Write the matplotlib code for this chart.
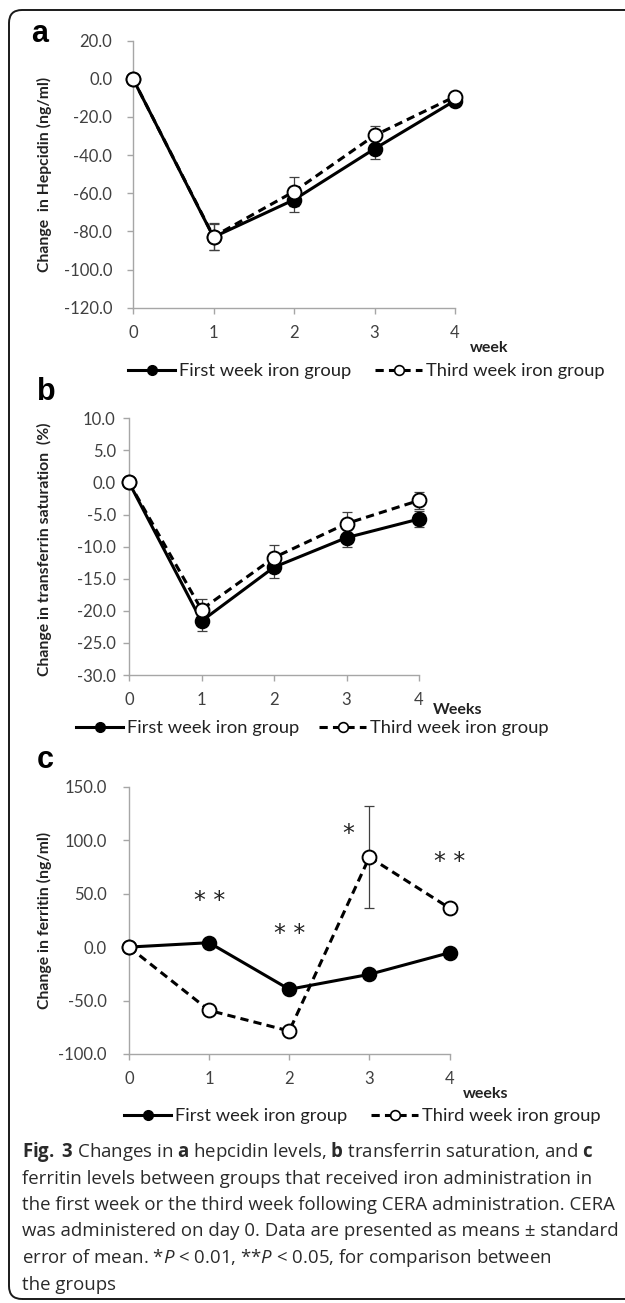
import matplotlib
matplotlib.use("Agg")
import matplotlib.pyplot as plt
from matplotlib.lines import Line2D
from matplotlib.patches import FancyBboxPatch
import numpy as np

# ---------------- data ----------------
weeks = [0, 1, 2, 3, 4]

hep_first = [0.0, -83.0, -63.4, -36.7, -11.4]
hep_first_err = [0.0, 6.7, 6.3, 5.4, 2.0]
hep_third = [0.0, -82.7, -59.1, -29.7, -9.3]
hep_third_err = [0.0, 7.3, 7.7, 5.1, 2.0]

tsat_first = [0.0, -21.6, -13.2, -8.6, -5.7]
tsat_first_err = [0.0, 1.6, 1.7, 1.5, 1.3]
tsat_third = [0.0, -19.8, -11.7, -6.4, -2.8]
tsat_third_err = [0.0, 1.7, 1.9, 1.8, 1.3]

fer_first = [0.0, 4.1, -39.5, -25.5, -5.3]
fer_first_err = [0.0, 0.0, 0.0, 0.0, 0.0]
fer_third = [0.0, -59.2, -78.5, 84.1, 36.5]
fer_third_err = [0.0, 0.0, 0.0, 47.5, 0.0]

# significance marks (panel c): label, x, y
sig_labels = ["* *", "* *", "*", "* *"]
sig_x = [1.0, 2.0, 2.73, 4.0]
sig_y = [43.0, 12.0, 106.0, 80.0]

series_names = ["First week iron group", "Third week iron group"]
ylabels = ["Change  in Hepcidin (ng/ml)", "Change in transferrin saturation  (%)",
           "Change in ferritin (ng/ml)"]
xlabels = ["week", "Weeks", "weeks"]

# ---------------- style ----------------
W, H = 625, 1303
FONT = "Lato"
plt.rcParams["font.family"] = [FONT, "DejaVu Sans"]
plt.rcParams["mathtext.fontset"] = "custom"
plt.rcParams["mathtext.rm"] = "Open Sans"
plt.rcParams["mathtext.bf"] = "Open Sans:bold"
plt.rcParams["mathtext.it"] = "Open Sans:italic"

fig = plt.figure(figsize=(W / 100, H / 100), dpi=100)


def fx(px):
    return px / W


def fy(py):
    return 1 - py / H


SPINE = "#a6a6a6"
TICKC = "#404040"
LW = 2.2
MS = 10
DASH = (0, (2.7, 1.7))


def make_panel(rect, first, first_err, third, third_err, ylim, ystep, ypad):
    ax = fig.add_axes(rect)
    ax.errorbar(weeks, first, yerr=first_err, fmt="none", ecolor="#404040",
                elinewidth=0.9, capsize=3.5, capthick=0.9, zorder=2, clip_on=False)
    ax.errorbar(weeks, third, yerr=third_err, fmt="none", ecolor="#404040",
                elinewidth=0.9, capsize=3.5, capthick=0.9, zorder=2, clip_on=False)
    ax.plot(weeks, first, color="black", lw=LW, marker="o", ms=MS,
            mfc="black", mec="black", mew=1.2, zorder=3, clip_on=False)
    ax.plot(weeks, third, color="black", lw=LW, ls=DASH, marker="o", ms=MS,
            mfc="white", mec="black", mew=1.4, zorder=4, clip_on=False)
    ax.set_xlim(0, 4)
    ax.set_ylim(*ylim)
    ax.set_xticks(weeks)
    ax.set_yticks(np.arange(ylim[0], ylim[1] + ystep / 2, ystep))
    ax.yaxis.set_major_formatter(matplotlib.ticker.FormatStrFormatter("%.1f"))
    for s in ["top", "right"]:
        ax.spines[s].set_visible(False)
    for s in ["left", "bottom"]:
        ax.spines[s].set_color(SPINE)
        ax.spines[s].set_linewidth(1.0)
    ax.tick_params(axis="both", colors=SPINE, labelcolor=TICKC, length=4.5,
                   width=1.0, labelsize=12)
    ax.tick_params(axis="y", pad=ypad)
    ax.tick_params(axis="x", pad=8)
    ax.patch.set_alpha(0)
    return ax


ax_a = make_panel([133 / W, fy(307.7), 322 / W, 267 / H], hep_first, hep_first_err,
                  hep_third, hep_third_err, (-120, 20), 20, 10.5)
ax_b = make_panel([129 / W, fy(675), 290 / W, 256.7 / H], tsat_first, tsat_first_err,
                  tsat_third, tsat_third_err, (-30, 10), 5, 5)
ax_c = make_panel([129 / W, fy(1054), 320.5 / W, 267.3 / H], fer_first, fer_first_err,
                  fer_third, fer_third_err, (-100, 150), 50, 11.5)

for lab, x, y in zip(sig_labels, sig_x, sig_y):
    ax_c.text(x, y, lab, ha="center", va="center", fontsize=17,
              family="DejaVu Sans", color="#222222", clip_on=False)

# y labels
for lab, ycen in zip(ylabels, [174, 549, 920]):
    fig.text(fx(44), fy(ycen), lab, rotation=90, ha="center", va="center",
             fontsize=11.3, fontweight="bold", color="#222222")

# x labels
for lab, (x, y) in zip(xlabels, [(489, 348), (458, 710), (486, 1094)]):
    fig.text(fx(x), fy(y), lab, ha="center", va="center", fontsize=11.5,
             fontweight="bold", color="#222222")

# panel letters
for lab, (x, y) in zip(["a", "b", "c"], [(31, 42), (37, 400), (37, 768)]):
    fig.text(fx(x), fy(y), lab, ha="left", va="baseline", fontsize=22,
             fontweight="bold", family="Liberation Sans", color="black")

# legends
h_first = Line2D([], [], color="black", lw=LW, marker="o", ms=7, mfc="black", mec="black")
h_third = Line2D([], [], color="black", lw=LW, ls=DASH, marker="o", ms=7,
                 mfc="white", mec="black", mew=1.2)
LEG_FS = 13.2
hl = 47 / (LEG_FS * 100 / 72)
for (x1, x2, y) in [(128, 375, 371), (76, 319, 728), (124, 371, 1116)]:
    for h, name, x in [(h_first, series_names[0], x1), (h_third, series_names[1], x2)]:
        fig.legend([h], [name], loc="center left", bbox_to_anchor=(fx(x), fy(y)),
                   frameon=False, fontsize=LEG_FS, handlelength=hl, handletextpad=0.2,
                   borderpad=0, borderaxespad=0, labelcolor="#222222")

# border
fig.patches.append(FancyBboxPatch((0.09, 0.04), 6.6, 12.89,
                                  boxstyle="round,pad=0,rounding_size=0.13",
                                  transform=fig.dpi_scale_trans, fill=False,
                                  ec="#1a1a1a", lw=1.4, figure=fig))

# caption
cap_lines = [
    r"$\mathbf{Fig.}$ $\mathbf{3}$ Changes in $\mathbf{a}$ hepcidin levels, $\mathbf{b}$ transferrin saturation, and $\mathbf{c}$",
    "ferritin levels between groups that received iron administration in",
    "the first week or the third week following CERA administration. CERA",
    "was administered on day 0. Data are presented as means ± standard",
    r"error of mean. *$\mathit{P}$ < 0.01, **$\mathit{P}$ < 0.05, for comparison between",
    "the groups",
]
cap_y = [1152, 1178.5, 1205, 1231.5, 1258, 1284.5]
renderer = fig.canvas.get_renderer()
probe = fig.text(0, 0, cap_lines[1], fontsize=12, family="Open Sans")
wpx = probe.get_window_extent(renderer).width
probe.remove()
cap_fs = 12 * 566 / wpx
plt.rcParams["mathtext.default"] = "rm"
for line, y in zip(cap_lines, cap_y):
    fig.text(fx(22), fy(y), line, ha="left", va="center", fontsize=cap_fs,
             family="Open Sans", color="#2a2a2a")

fig.savefig("out.png", dpi=100)
